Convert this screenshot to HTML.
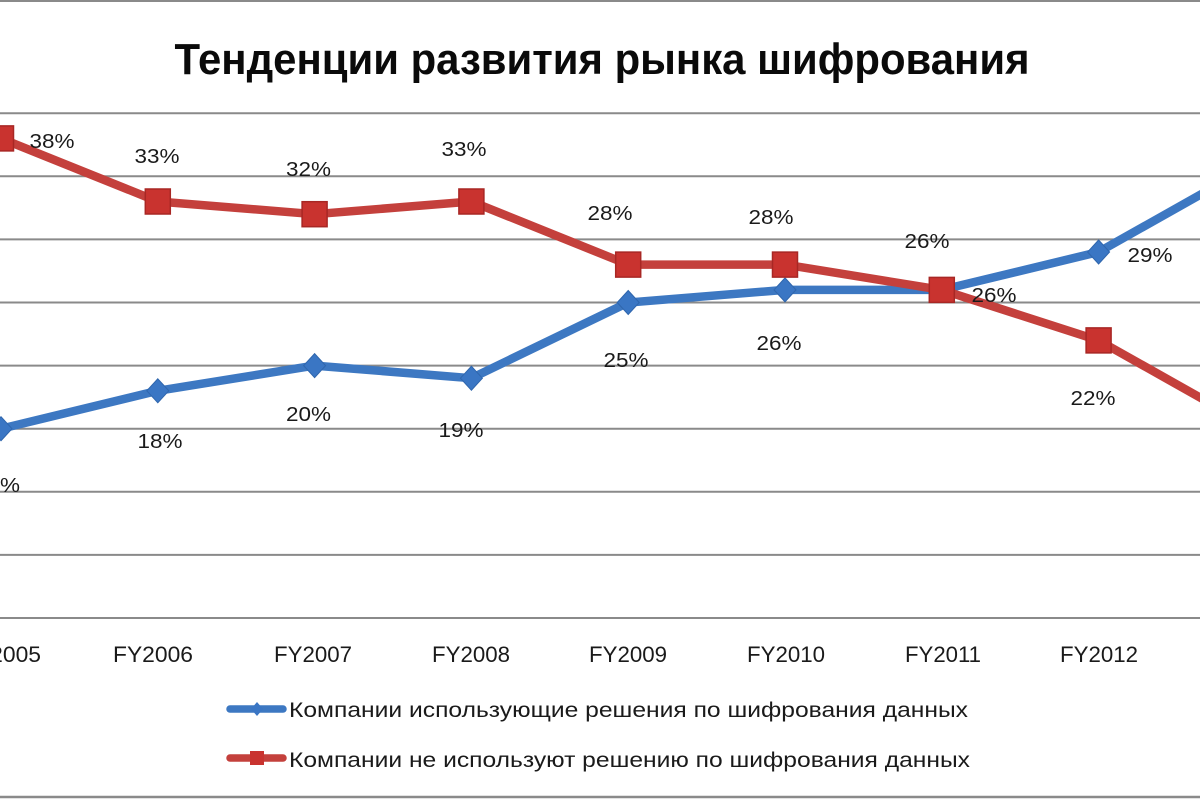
<!DOCTYPE html>
<html>
<head>
<meta charset="utf-8">
<style>
  html,body{margin:0;padding:0;background:#fff;}
  svg{display:block;}
  text{font-family:"Liberation Sans","DejaVu Sans",sans-serif;fill:#1a1a1a;}
</style>
</head>
<body>
<svg width="1200" height="800" viewBox="0 0 1200 800" xmlns="http://www.w3.org/2000/svg">
  <rect x="0" y="0" width="1200" height="800" fill="#fff"/>
  <!-- chart border -->
  <line x1="0" y1="1" x2="1200" y2="1" stroke="#8a8a8a" stroke-width="2"/>
  <line x1="0" y1="797" x2="1200" y2="797" stroke="#8a8a8a" stroke-width="2.5"/>

  <!-- title -->
  <text x="602" y="74" font-size="44" font-weight="bold" text-anchor="middle" textLength="855" lengthAdjust="spacingAndGlyphs" style="fill:#0a0a0a">Тенденции развития рынка шифрования</text>

  <!-- gridlines -->
  <g stroke="#8a8a8a" stroke-width="2">
    <line x1="0" y1="113.2" x2="1200" y2="113.2"/>
    <line x1="0" y1="176.3" x2="1200" y2="176.3"/>
    <line x1="0" y1="239.4" x2="1200" y2="239.4"/>
    <line x1="0" y1="302.5" x2="1200" y2="302.5"/>
    <line x1="0" y1="365.6" x2="1200" y2="365.6"/>
    <line x1="0" y1="428.7" x2="1200" y2="428.7"/>
    <line x1="0" y1="491.8" x2="1200" y2="491.8"/>
    <line x1="0" y1="554.9" x2="1200" y2="554.9"/>
    <line x1="0" y1="618" x2="1200" y2="618"/>
  </g>

  <!-- x axis labels -->
  <g font-size="22" text-anchor="middle">
    <text x="1" y="662" textLength="80" lengthAdjust="spacingAndGlyphs">FY2005</text>
    <text x="153" y="662" textLength="80" lengthAdjust="spacingAndGlyphs">FY2006</text>
    <text x="313" y="662" textLength="78" lengthAdjust="spacingAndGlyphs">FY2007</text>
    <text x="471" y="662" textLength="78" lengthAdjust="spacingAndGlyphs">FY2008</text>
    <text x="628" y="662" textLength="78" lengthAdjust="spacingAndGlyphs">FY2009</text>
    <text x="786" y="662" textLength="78" lengthAdjust="spacingAndGlyphs">FY2010</text>
    <text x="943" y="662" textLength="76" lengthAdjust="spacingAndGlyphs">FY2011</text>
    <text x="1099" y="662" textLength="78" lengthAdjust="spacingAndGlyphs">FY2012</text>
  </g>

  <!-- blue series -->
  <polyline fill="none" stroke="#3d78c2" stroke-width="8.5" stroke-linejoin="round"
    points="1,428.7 157.8,390.8 314.6,365.6 471.4,378.2 628.2,302.5 785,289.9 941.8,289.9 1098.6,252 1255.4,163.7"/>
  <g fill="#3a76c4" stroke="#2f66ad" stroke-width="1">
    <path d="M1 416.7 L12 428.7 L1 440.7 L-10 428.7 Z"/>
    <path d="M157.8 378.8 L168.8 390.8 L157.8 402.8 L146.8 390.8 Z"/>
    <path d="M314.6 353.6 L325.6 365.6 L314.6 377.6 L303.6 365.6 Z"/>
    <path d="M471.4 366.2 L482.4 378.2 L471.4 390.2 L460.4 378.2 Z"/>
    <path d="M628.2 290.5 L639.2 302.5 L628.2 314.5 L617.2 302.5 Z"/>
    <path d="M785 277.9 L796 289.9 L785 301.9 L774 289.9 Z"/>
    <path d="M941.8 277.9 L952.8 289.9 L941.8 301.9 L930.8 289.9 Z"/>
    <path d="M1098.6 240 L1109.6 252 L1098.6 264 L1087.6 252 Z"/>
  </g>

  <!-- red series -->
  <polyline fill="none" stroke="#c4403c" stroke-width="8.5" stroke-linejoin="round"
    points="1,138.4 157.8,201.5 314.6,214.2 471.4,201.5 628.2,264.6 785,264.6 941.8,289.9 1098.6,340.4 1255.4,428.7"/>
  <g fill="#c9332f" stroke="#a82724" stroke-width="1.5">
    <rect x="-11.5" y="125.9" width="25" height="25"/>
    <rect x="145.3" y="189" width="25" height="25"/>
    <rect x="302.1" y="201.7" width="25" height="25"/>
    <rect x="458.9" y="189" width="25" height="25"/>
    <rect x="615.7" y="252.1" width="25" height="25"/>
    <rect x="772.5" y="252.1" width="25" height="25"/>
    <rect x="929.3" y="277.4" width="25" height="25"/>
    <rect x="1086.1" y="327.9" width="25" height="25"/>
  </g>

  <!-- data labels -->
  <g font-size="20" text-anchor="middle">
    <!-- red -->
    <text x="52" y="148" textLength="45" lengthAdjust="spacingAndGlyphs">38%</text>
    <text x="157" y="163" textLength="45" lengthAdjust="spacingAndGlyphs">33%</text>
    <text x="308.5" y="176" textLength="45" lengthAdjust="spacingAndGlyphs">32%</text>
    <text x="464" y="156" textLength="45" lengthAdjust="spacingAndGlyphs">33%</text>
    <text x="610" y="220" textLength="45" lengthAdjust="spacingAndGlyphs">28%</text>
    <text x="771" y="224" textLength="45" lengthAdjust="spacingAndGlyphs">28%</text>
    <text x="927" y="248" textLength="45" lengthAdjust="spacingAndGlyphs">26%</text>
    <text x="1093" y="405" textLength="45" lengthAdjust="spacingAndGlyphs">22%</text>
    <!-- blue -->
    <text x="20" y="492" text-anchor="end" textLength="45" lengthAdjust="spacingAndGlyphs">12%</text>
    <text x="160" y="448" textLength="45" lengthAdjust="spacingAndGlyphs">18%</text>
    <text x="308.5" y="421" textLength="45" lengthAdjust="spacingAndGlyphs">20%</text>
    <text x="461" y="437" textLength="45" lengthAdjust="spacingAndGlyphs">19%</text>
    <text x="626" y="367" textLength="45" lengthAdjust="spacingAndGlyphs">25%</text>
    <text x="779" y="350" textLength="45" lengthAdjust="spacingAndGlyphs">26%</text>
    <text x="994" y="302" textLength="45" lengthAdjust="spacingAndGlyphs">26%</text>
    <text x="1150" y="262" textLength="45" lengthAdjust="spacingAndGlyphs">29%</text>
  </g>

  <!-- legend -->
  <line x1="230" y1="709" x2="283" y2="709" stroke="#3d78c2" stroke-width="7.5" stroke-linecap="round"/>
  <path d="M257 702 L263 709 L257 716 L251 709 Z" fill="#3a76c4"/>
  <line x1="230" y1="758" x2="283" y2="758" stroke="#c4403c" stroke-width="7.5" stroke-linecap="round"/>
  <rect x="250" y="751" width="14" height="14" fill="#c9332f"/>
  <g font-size="21">
    <text x="289" y="717" textLength="679" lengthAdjust="spacingAndGlyphs">Компании использующие решения  по шифрования  данных</text>
    <text x="289" y="767" textLength="681" lengthAdjust="spacingAndGlyphs">Компании не используют решению  по шифрования  данных</text>
  </g>
</svg>
</body>
</html>
